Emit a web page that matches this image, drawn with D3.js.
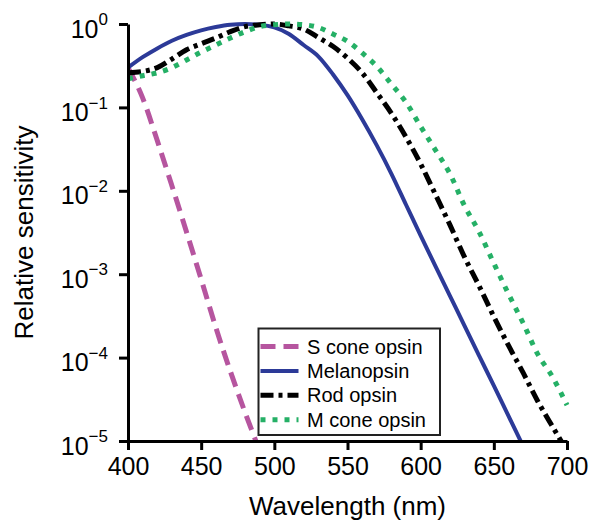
<!DOCTYPE html>
<html>
<head>
<meta charset="utf-8">
<script src="https://cdn.jsdelivr.net/npm/d3@7"></script>
<style>
  body { margin: 0; background: #fff; }
  svg { display: block; font-family: "Liberation Sans", Arial, sans-serif; }
</style>
</head>
<body>
<script>
// wavelengths (nm) every 10 nm
var wavelengths = [400, 410, 420, 430, 440, 450, 460, 470, 480, 490, 500, 510, 520, 530, 540, 550,
                   560, 570, 580, 590, 600, 610, 620, 630, 640, 650, 660, 670, 680, 690, 700]

// relative sensitivity (null = below the axis)
var sCone = [0.30, 0.13, 0.040, 0.0115, 3.2e-3, 8.7e-4, 2.3e-4, 6.8e-5, 2.2e-5, 7.6e-6]
var melanopsin = [0.30, 0.40, 0.51, 0.63, 0.74, 0.84, 0.92, 0.98, 1.00, 0.98, 0.91, 0.76, 0.56, 0.41, 0.25, 0.14,
                  0.072, 0.035, 0.016, 6.8e-3, 2.9e-3, 1.26e-3, 5.5e-4, 2.4e-4, 1.05e-4, 4.6e-5, 2.0e-5, 8.7e-6]
var rod = [0.26, 0.27, 0.30, 0.38, 0.49, 0.58, 0.68, 0.81, 0.93, 0.98, 1.00, 0.95, 0.87, 0.69, 0.54, 0.39,
           0.26, 0.15, 0.085, 0.044, 0.021, 9.1e-3, 3.9e-3, 1.6e-3, 7.2e-4, 3.1e-4, 1.4e-4, 6.6e-5, 3.0e-5, 1.5e-5, 7.6e-6]
var mCone = [0.22, 0.24, 0.26, 0.30, 0.37, 0.46, 0.56, 0.68, 0.81, 0.93, 0.98, 1.00, 0.98, 0.91, 0.76, 0.62,
             0.45, 0.31, 0.19, 0.115, 0.059, 0.031, 0.016, 6.6e-3, 3.2e-3, 1.35e-3, 5.8e-4, 2.6e-4, 1.1e-4, 5.9e-5, 2.7e-5]

var seriesNames = ["S cone opsin", "Melanopsin", "Rod opsin", "M cone opsin"]
var xTicks = [400, 450, 500, 550, 600, 650, 700]
var yTicks = [1, 1e-1, 1e-2, 1e-3, 1e-4, 1e-5]

var width = 593
var height = 524
var margin = { top: 24, right: 26, bottom: 83, left: 128 }

var series = [
    { name: seriesNames[0], values: sCone, color: "#b6559f", width: 5, dash: "15 8" },
    { name: seriesNames[1], values: melanopsin, color: "#2c3a98", width: 4, dash: null },
    { name: seriesNames[2], values: rod, color: "#000000", width: 5, dash: "13 5 4 5" },
    { name: seriesNames[3], values: mCone, color: "#25b066", width: 5, dash: "5 7" }
]

var escalaX = d3.scaleLinear()
    .domain([400, 700])
    .range([margin.left, width - margin.right])

var escalaY = d3.scaleLog()
    .domain([1e-5, 1])
    .range([height - margin.bottom, margin.top])

var svg = d3.select("body")
    .append("svg")
    .attr("width", width)
    .attr("height", height)

svg.append("clipPath")
    .attr("id", "plot")
    .append("rect")
    .attr("x", margin.left)
    .attr("y", 0)
    .attr("width", width - margin.right - margin.left + 10)
    .attr("height", height - margin.bottom)

var linea = d3.line()
    .defined(d => d.v != null)
    .x(d => escalaX(d.w))
    .y(d => escalaY(d.v))
    .curve(d3.curveMonotoneX)

// curves
svg.append("g")
    .attr("clip-path", "url(#plot)")
    .selectAll("path")
    .data(series)
    .enter()
    .append("path")
    .attr("d", s => linea(s.values.map((v, i) => ({ w: wavelengths[i], v: v }))))
    .attr("fill", "none")
    .attr("stroke", s => s.color)
    .attr("stroke-width", s => s.width)
    .attr("stroke-dasharray", s => s.dash)

// eje X
var ejeX = d3.axisBottom(escalaX)
    .tickValues(xTicks)
    .tickSize(9)
    .tickSizeOuter(0)
    .tickPadding(7)

var gX = svg.append("g")
    .attr("transform", "translate(0," + (height - margin.bottom) + ")")
    .call(ejeX)

// eje Y
var ejeY = d3.axisLeft(escalaY)
    .tickValues(yTicks)
    .tickSize(9)
    .tickSizeOuter(0)
    .tickPadding(11)

var gY = svg.append("g")
    .attr("transform", "translate(" + margin.left + ",0)")
    .call(ejeY)

;[gX, gY].forEach(function(g) {
    g.select(".domain").attr("stroke", "#000").attr("stroke-width", 3)
    g.selectAll(".tick line").attr("stroke", "#000").attr("stroke-width", 3)
    g.selectAll(".tick text").attr("font-size", 25).attr("fill", "#000")
        .attr("font-family", "'Liberation Sans', Arial, sans-serif")
})

// superindices 10^n
gY.selectAll(".tick text").each(function(d) {
    var exp = Math.round(Math.log10(d))
    var t = d3.select(this).text(null).attr("dy", "0.52em")
    t.append("tspan").text("10")
    t.append("tspan")
        .attr("font-size", 17)
        .attr("dy", "-0.72em")
        .text(exp === 0 ? "0" : "\u2212" + Math.abs(exp))
})

// titulos
svg.append("text")
    .attr("x", (margin.left + width - margin.right) / 2)
    .attr("y", 515)
    .attr("text-anchor", "middle")
    .attr("font-size", 26)
    .text("Wavelength (nm)")

svg.append("text")
    .attr("transform", "translate(33," + (margin.top + height - margin.bottom) / 2 + ") rotate(-90)")
    .attr("text-anchor", "middle")
    .attr("font-size", 26)
    .text("Relative sensitivity")

// leyenda
var leyenda = svg.append("g").attr("transform", "translate(258.5,328.5)")

leyenda.append("rect")
    .attr("width", 181.5)
    .attr("height", 106.5)
    .attr("fill", "#fff")
    .attr("stroke", "#222")
    .attr("stroke-width", 2)

var filas = leyenda.selectAll("g.fila")
    .data(series)
    .enter()
    .append("g")
    .attr("class", "fila")
    .attr("transform", (s, i) => "translate(0," + (25 + i * 24.4) + ")")

filas.append("line")
    .attr("x1", 2)
    .attr("x2", 40)
    .attr("y1", -7)
    .attr("y2", -7)
    .attr("stroke", s => s.color)
    .attr("stroke-width", s => s.width)
    .attr("stroke-dasharray", s => s.dash)

filas.append("text")
    .attr("x", 48.5)
    .attr("font-size", 20)
    .text(s => s.name)
</script>
</body>
</html>
